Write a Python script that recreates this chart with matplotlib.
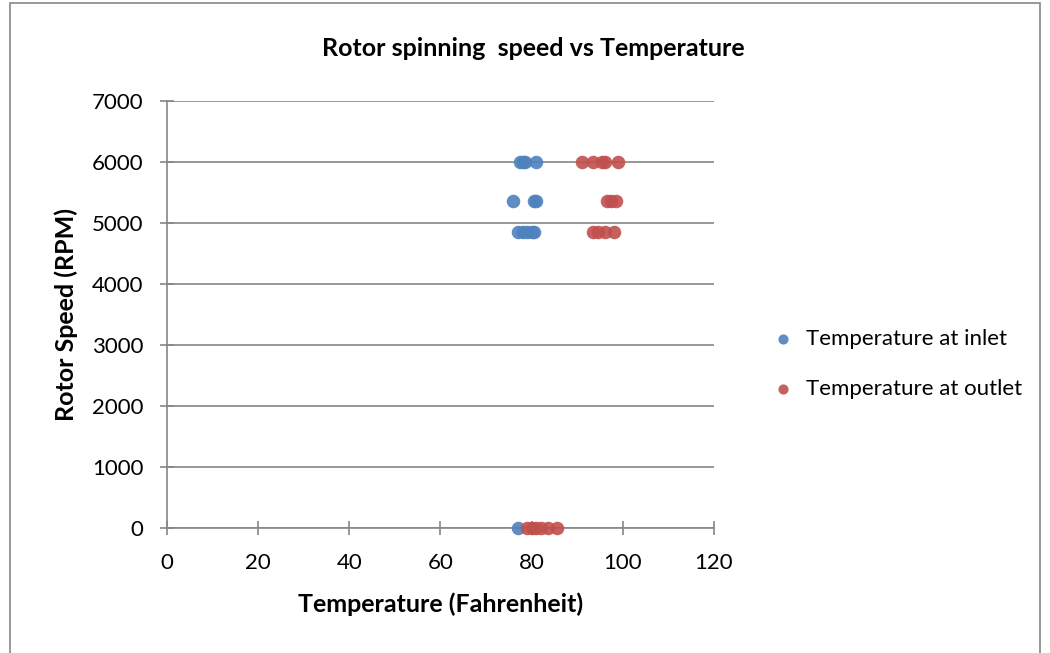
import matplotlib
matplotlib.use("Agg")
import matplotlib.pyplot as plt
import matplotlib.patches as mpatches

plt.rcParams['font.family'] = ['Lato', 'DejaVu Sans']

# data
inlet_temp = [77.5, 78, 78.5, 81,
              76, 80.5, 81,
              77, 78, 79, 80, 80.5,
              77]
inlet_rpm = [6000, 6000, 6000, 6000,
             5360, 5360, 5360,
             4860, 4860, 4860, 4860, 4860,
             0]
outlet_temp = [91, 93.5, 95.5, 96, 99,
               96.5, 97.5, 98.5,
               93.5, 94.5, 96, 98,
               79, 80, 81, 82, 83.5, 85.5]
outlet_rpm = [6000, 6000, 6000, 6000, 6000,
              5360, 5360, 5360,
              4860, 4860, 4860, 4860,
              0, 0, 0, 0, 0, 0]
x_ticks = [0, 20, 40, 60, 80, 100, 120]
y_ticks = [0, 1000, 2000, 3000, 4000, 5000, 6000, 7000]

blue = '#4F81BD'
red = '#C0504D'
grid_col = '#868686'

fig = plt.figure(figsize=(10.5, 6.53), dpi=100)
ax = fig.add_axes([167/1050, 1-528/653, (714-167)/1050, (528-101)/653])

ax.scatter(inlet_temp, inlet_rpm, s=95, color=blue, alpha=0.9, linewidths=0, zorder=3, clip_on=False, label='Temperature at inlet')
ax.scatter(outlet_temp, outlet_rpm, s=95, color=red, alpha=0.9, linewidths=0, zorder=3, clip_on=False, label='Temperature at outlet')

ax.set_xlim(0, 120)
ax.set_ylim(0, 7000)
ax.set_xticks(x_ticks)
ax.set_yticks(y_ticks)
ax.yaxis.grid(True, color=grid_col, linewidth=1.2)
ax.set_axisbelow(True)
for s in ['top', 'right']:
    ax.spines[s].set_visible(False)
for s in ['left', 'bottom']:
    ax.spines[s].set_color(grid_col)
    ax.spines[s].set_linewidth(1.2)
ax.tick_params(axis='both', direction='inout', length=10, color=grid_col, width=1.2, labelsize=16)
ax.tick_params(axis='y', pad=12)
ax.tick_params(axis='x', pad=13)

fig.text(533/1050, 1-48/653, 'Rotor spinning  speed vs Temperature', fontsize=18, fontweight='bold',
         ha='center', va='center')
ax.set_xlabel('Temperature (Fahrenheit)', fontsize=18, fontweight='bold', labelpad=14)
ax.set_ylabel('Rotor Speed (RPM)', fontsize=18, fontweight='bold', labelpad=10)

fig.legend(loc='center left', bbox_to_anchor=(752/1050, 1-364/653), frameon=False, fontsize=16,
           handletextpad=0.05, labelspacing=1.35, markerscale=0.75, borderaxespad=0)

fig.patches.append(mpatches.Rectangle((10/1050, -0.01), 1030/1050, 1-3/653+0.01, transform=fig.transFigure,
                                      fill=False, edgecolor='#888888', linewidth=1.2))

fig.savefig('out.png', dpi=100)
